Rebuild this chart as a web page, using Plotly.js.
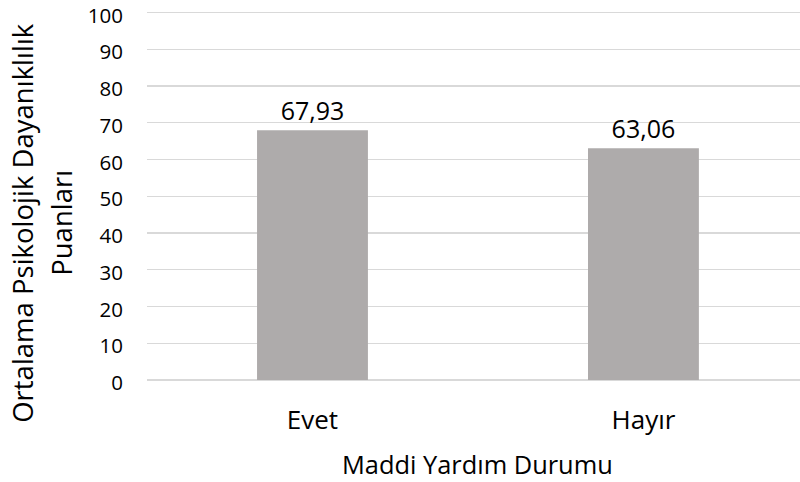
<!DOCTYPE html>
<html>
<head>
<meta charset="utf-8">
<script src="https://cdn.plot.ly/plotly-3.0.1.min.js"></script>
<style>html,body{margin:0;padding:0;background:#fff;}#chart{width:800px;height:482px;}</style>
</head>
<body>
<div id="chart"></div>
<script>
const categories = ["Evet", "Hayır"];
const values = [67.93, 63.06];
const yTicks = [0, 10, 20, 30, 40, 50, 60, 70, 80, 90, 100];
const xTitle = "Maddi Yardım Durumu";
const yTitleLines = ["Ortalama Psikolojik Dayanıklılık", "Puanları"];

const FONT = "Open Sans, Liberation Sans, sans-serif";

const trace = {
  type: "bar",
  x: categories,
  y: values,
  width: 0.335,
  marker: {color: "#AEABAB", line: {width: 0}},
  texttemplate: "%{y:.2f}",
  textposition: "outside",
  cliponaxis: false,
  textfont: {family: FONT, size: 25, color: "#000"},
  hoverinfo: "none"
};

const yTitleX = [-0.1899, -0.1302];

const layout = {
  width: 800,
  height: 482,
  margin: {l: 147, r: 0, t: 8, b: 102, pad: 0},
  paper_bgcolor: "#fff",
  plot_bgcolor: "#fff",
  separators: ",.",
  showlegend: false,
  font: {family: FONT, color: "#000"},
  xaxis: {
    type: "category",
    range: [-0.5, 1.473],
    showgrid: false,
    showline: false,
    zeroline: false,
    ticks: "outside",
    ticklen: 17,
    tickcolor: "rgba(0,0,0,0)",
    tickfont: {family: FONT, size: 26, color: "#000"},
    fixedrange: true
  },
  yaxis: {
    range: [0, 101.2],
    tickvals: yTicks,
    ticktext: yTicks.map(String),
    showgrid: true,
    gridcolor: "#D9D9D9",
    gridwidth: 1.3,
    zeroline: true,
    zerolinecolor: "#D9D9D9",
    zerolinewidth: 1.3,
    showline: false,
    ticks: "",
    ticklabelstandoff: 23,
    ticklabelshift: 3,
    ticklabeloverflow: "allow",
    tickfont: {family: FONT, size: 20.5, color: "#000"},
    fixedrange: true
  },
  annotations: [
    {
      text: xTitle,
      xref: "x", yref: "paper",
      x: 0.5, y: -0.2246,
      xanchor: "center", yanchor: "middle",
      showarrow: false,
      font: {family: FONT, size: 25.4, color: "#000"}
    }
  ].concat(yTitleLines.map((line, i) => ({
      text: line,
      xref: "paper", yref: "paper",
      x: yTitleX[i], y: 0.4225,
      xanchor: "center", yanchor: "middle",
      textangle: -90,
      showarrow: false,
      font: {family: FONT, size: 27.5, color: "#000"}
  })))
};

Plotly.newPlot("chart", [trace], layout, {staticPlot: true, displayModeBar: false});
</script>
</body>
</html>
